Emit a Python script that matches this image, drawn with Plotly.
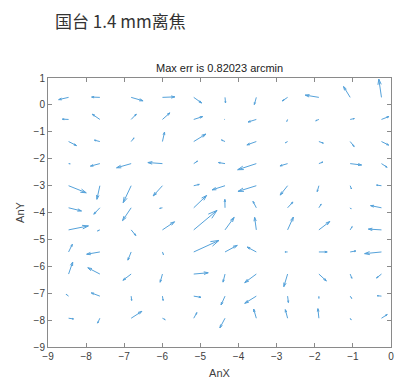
import numpy as np
import plotly.graph_objects as go

# Sample grid (field positions)
x_grid = [-8.46, -7.639, -6.818, -5.997, -5.176, -4.355, -3.534, -2.713, -1.892, -1.071, -0.25]
y_grid = [0.28, -0.541, -1.362, -2.183, -3.004, -3.825, -4.646, -5.467, -6.288, -7.109, -7.93]

# Error vector components per row (top to bottom), already in axis units
U = [
    [-0.260, -0.216, 0.312, 0.325, 0.208, 0.013, -0.052, -0.140, -0.359, -0.174, -0.070],
    [-0.164, -0.200, 0.135, 0.195, 0.234, -0.013, -0.216, -0.021, -0.083, 0.109, 0.198],
    [0.208, -0.143, 0.075, 0.055, 0.320, -0.094, -0.247, -0.057, 0.117, 0.104, 0.190],
    [0.042, -0.247, -0.382, -0.382, 0.099, -0.172, -0.489, -0.200, 0.104, 0.299, 0.148],
    [0.463, -0.078, -0.208, -0.244, 0.146, -0.338, -0.481, -0.195, -0.044, 0.034, -0.130],
    [0.338, -0.159, -0.226, -0.073, 0.338, -0.005, -0.086, 0.140, 0.060, 0.026, -0.286],
    [0.520, -0.060, 0.122, 0.317, 0.611, 0.239, -0.044, 0.151, 0.286, 0.052, -0.343],
    [0.099, -0.346, -0.086, 0.026, 0.663, 0.320, -0.242, -0.070, 0.218, 0.148, -0.442],
    [0.109, -0.317, -0.216, -0.060, 0.380, -0.052, -0.304, -0.099, 0.195, 0.044, -0.130],
    [-0.062, -0.226, 0.013, 0.018, 0.190, -0.104, -0.304, 0.021, 0.000, 0.039, -0.112],
    [0.130, -0.060, 0.281, 0.073, 0.083, -0.135, -0.070, -0.060, -0.026, 0.026, 0.151],
]
V = [
    [-0.084, 0.011, -0.128, 0.018, -0.209, -0.209, -0.267, -0.132, 0.084, 0.403, 0.678],
    [0.011, 0.194, 0.198, 0.245, 0.106, 0.000, -0.095, -0.073, -0.048, 0.033, 0.110],
    [-0.150, 0.051, 0.136, 0.352, 0.278, 0.059, -0.125, -0.044, -0.059, -0.187, -0.132],
    [-0.007, -0.092, -0.154, 0.040, 0.095, 0.040, -0.227, -0.084, 0.059, -0.051, -0.136],
    [-0.264, -0.505, -0.630, -0.381, 0.048, -0.154, -0.212, -0.348, -0.220, -0.121, 0.022],
    [-0.117, -0.238, -0.476, -0.022, 0.458, 0.311, 0.238, 0.216, 0.136, -0.044, 0.081],
    [0.147, -0.037, -0.209, 0.300, 0.725, 0.465, 0.465, 0.476, 0.311, 0.121, 0.029],
    [0.286, -0.084, -0.304, -0.099, 0.429, 0.245, 0.183, 0.000, 0.000, 0.037, -0.062],
    [0.447, 0.234, -0.231, -0.304, 0.048, -0.300, -0.319, -0.469, -0.256, -0.158, -0.147],
    [0.066, 0.121, -0.161, -0.161, -0.044, -0.330, -0.267, -0.238, -0.081, -0.084, 0.015],
    [-0.026, -0.183, 0.256, -0.055, 0.209, -0.359, 0.341, 0.319, 0.355, -0.062, 0.136],
]

x_ticks = list(range(-9, 1))
y_ticks = list(range(-9, 2))
x_range = [-9, 0]
y_range = [-9, 1]

# Figure geometry
W, H = 398, 382
margin = dict(l=48, r=4, t=78, b=31)
plot_w = W - margin["l"] - margin["r"]
plot_h = H - margin["t"] - margin["b"]
sx = plot_w / (x_range[1] - x_range[0])   # px per x unit
sy = plot_h / (y_range[1] - y_range[0])   # px per y unit

# Quiver-style arrows: shaft plus two head barbs, computed in screen space
alpha, beta = 0.3, 0.3
xs, ys = [], []
for i, y0 in enumerate(y_grid):
    for j, x0 in enumerate(x_grid):
        u, v = U[i][j], V[i][j]
        x1, y1 = x0 + u, y0 + v
        xs += [x0, x1, None]
        ys += [y0, y1, None]
        pu, pv = u * sx, v * sy
        bx1 = x1 - alpha * (pu + beta * pv) / sx
        by1 = y1 - alpha * (pv - beta * pu) / sy
        bx2 = x1 - alpha * (pu - beta * pv) / sx
        by2 = y1 - alpha * (pv + beta * pu) / sy
        xs += [bx1, x1, bx2, None]
        ys += [by1, y1, by2, None]

fig = go.Figure()
fig.add_trace(go.Scatter(
    x=xs, y=ys, mode="lines",
    line=dict(color="#55a2da", width=1),
    hoverinfo="skip", showlegend=False,
))

axis_font = dict(family="Liberation Sans, Arial, sans-serif", size=10, color="#404040")
common_axis = dict(
    showgrid=False, zeroline=False,
    showline=True, linecolor="#8a8a8a", linewidth=1, mirror="ticks",
    ticks="inside", ticklen=4, tickcolor="#8a8a8a", tickwidth=1,
    tickfont=axis_font,
)
fig.update_xaxes(range=x_range, tickvals=x_ticks, **common_axis,
                 title=dict(text="AnX", font=dict(family="Liberation Sans, Arial, sans-serif", size=11, color="#404040"), standoff=8))
fig.update_yaxes(range=y_range, tickvals=y_ticks, **common_axis,
                 title=dict(text="AnY", font=dict(family="Liberation Sans, Arial, sans-serif", size=11, color="#404040"), standoff=6))

def paper_y(py):
    return (H - margin["b"] - py) / plot_h

def paper_x(px):
    return (px - margin["l"]) / plot_w

fig.add_annotation(
    text="Max err is 0.82023 arcmin", xref="paper", yref="paper",
    x=0.5, y=paper_y(68), xanchor="center", yanchor="middle", showarrow=False,
    font=dict(family="Liberation Sans, Arial, sans-serif", size=11, color="#222222"),
)
fig.add_annotation(
    text="国台 1.4 mm离焦", xref="paper", yref="paper",
    x=paper_x(53), y=paper_y(20), xanchor="left", yanchor="middle", showarrow=False,
    font=dict(family="Noto Sans CJK SC, sans-serif", size=17, color="#333333"),
)

fig.update_layout(
    width=W, height=H, margin=margin,
    plot_bgcolor="white", paper_bgcolor="white",
)

fig.write_html("out.html")
